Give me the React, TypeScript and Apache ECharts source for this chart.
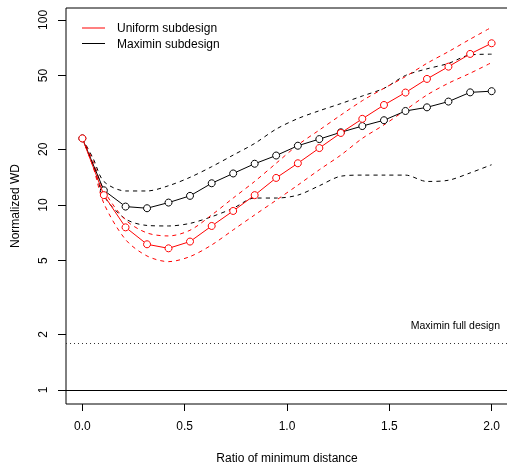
import React, { useEffect, useRef } from "react";
import * as echarts from "echarts";

// x positions (ratio of minimum distance)
const ratioPoints = [0, 0.105, 0.211, 0.316, 0.421, 0.526, 0.632, 0.737, 0.842, 0.947, 1.053, 1.158, 1.263, 1.368, 1.474, 1.579, 1.684, 1.789, 1.895, 2.0];
const bandPoints = [0, 0.053, 0.105, 0.211, 0.316, 0.421, 0.526, 0.632, 0.737, 0.842, 0.947, 1.053, 1.158, 1.263, 1.368, 1.474, 1.579, 1.684, 1.789, 1.895, 2.0];

// Normalized WD, medians
const uniformMedian = [22.9, 11.3, 7.57, 6.13, 5.83, 6.34, 7.7, 9.28, 11.3, 14.0, 16.8, 20.3, 24.5, 29.2, 34.7, 40.5, 48.0, 55.9, 65.5, 74.8];
const maximinMedian = [22.9, 12.0, 9.8, 9.6, 10.3, 11.2, 13.1, 14.8, 16.7, 18.5, 20.9, 22.7, 24.7, 26.7, 28.7, 32.2, 33.7, 36.2, 40.6, 41.2];

// bands (dashed)
const uniformUpper = [22.9, 17.2, 12.0, 8.3, 7.06, 6.8, 7.3, 8.83, 10.9, 13.4, 16.8, 21.1, 25.4, 30.6, 36.6, 42.7, 49.4, 58.3, 67.4, 78.7, 91.3];
const uniformLower = [22.9, 16.0, 10.2, 6.5, 5.3, 4.94, 5.26, 6.08, 7.33, 8.83, 10.6, 12.8, 15.5, 18.6, 22.9, 27.1, 32.6, 39.3, 45.5, 51.5, 58.8];
const maximinUpper = [22.9, 17.8, 13.4, 11.9, 11.9, 12.7, 14.1, 16.1, 18.6, 21.5, 25.7, 29.3, 32.3, 35.3, 38.8, 42.7, 50.1, 54.4, 58.2, 64.7, 65.3];
const maximinLower = [22.9, 16.4, 11.2, 8.4, 7.75, 7.7, 7.95, 8.64, 9.6, 10.9, 10.9, 11.3, 12.7, 14.3, 14.5, 14.5, 14.5, 13.4, 13.6, 14.9, 16.5];

const referenceLevels = [1, 1.8];
const xTicks = [0, 0.5, 1, 1.5, 2];
const yTicks = [1, 2, 5, 10, 20, 50, 100];

const FONT = "'Liberation Sans', Arial, Helvetica, sans-serif";

function pair(xs: number[], ys: number[]) {
  return xs.map((x, i) => [x, ys[i]]);
}

export default function App() {
  const ref = useRef<HTMLDivElement>(null);
  useEffect(() => {
    const chart = echarts.init(ref.current!, null, { renderer: "svg" });
    const band = (data: number[], color: string) => ({
      type: "line",
      data: pair(bandPoints, data),
      symbol: "none",
      smooth: 0.3,
      silent: true,
      z: 2,
      lineStyle: { color, width: 1, type: [4, 4] },
    });
    const median = (name: string, data: number[], color: string, z: number) => ({
      name,
      type: "line",
      data: pair(ratioPoints, data),
      symbol: "circle",
      symbolSize: 7,
      z,
      lineStyle: { color, width: 1 },
      itemStyle: { color: "#fff", borderColor: color, borderWidth: 1 },
    });
    chart.setOption({
      animation: false,
      textStyle: { fontFamily: FONT, color: "#000" },
      grid: {
        left: 66,
        top: 8,
        width: 442,
        height: 396,
        show: true,
        borderColor: "#000",
        borderWidth: 1,
        backgroundColor: "transparent",
        containLabel: false,
        outerBoundsMode: "none",
      },
      legend: {
        data: [
          { name: "Uniform subdesign", itemStyle: { color: "#ff0000" } },
          { name: "Maximin subdesign", itemStyle: { color: "#000" } },
        ],
        orient: "vertical",
        left: 82,
        top: 21,
        icon: "rect",
        itemWidth: 23,
        itemHeight: 1,
        itemGap: 1.5,
        padding: 0,
        itemStyle: { borderWidth: 0 },
        textStyle: { fontSize: 12, lineHeight: 14, color: "#000", fontFamily: FONT, padding: [0, 0, 0, 7] },
      },
      xAxis: {
        type: "value",
        min: -0.08,
        max: 2.08,
        splitLine: { show: false },
        axisLine: { show: false, onZero: false },
        axisTick: { show: true, length: 7, customValues: xTicks, lineStyle: { color: "#000" } },
        axisLabel: {
          customValues: xTicks,
          formatter: (v: number) => v.toFixed(1),
          margin: 16,
          fontSize: 12,
          color: "#000",
          fontFamily: FONT,
        },
        name: "Ratio of minimum distance",
        nameLocation: "middle",
        nameGap: 48,
        nameTextStyle: { fontSize: 12, color: "#000", fontFamily: FONT },
      },
      yAxis: {
        type: "log",
        logBase: 10,
        min: 0.84,
        max: 116,
        splitLine: { show: false },
        axisLine: { show: false, onZero: false },
        axisTick: { show: true, length: 8, customValues: yTicks, lineStyle: { color: "#000" } },
        axisLabel: {
          customValues: yTicks,
          rotate: 90,
          formatter: (v: number) => String(+(+v).toPrecision(3)),
          margin: 17,
          fontSize: 12,
          color: "#000",
          fontFamily: FONT,
        },
        name: "Normalized WD",
        nameLocation: "middle",
        nameRotate: 90,
        nameGap: 45,
        nameTextStyle: { fontSize: 12, color: "#000", fontFamily: FONT },
      },
      series: [
        band(maximinUpper, "#000"),
        band(maximinLower, "#000"),
        band(uniformUpper, "#ff0000"),
        band(uniformLower, "#ff0000"),
        {
          ...median("Maximin subdesign", maximinMedian, "#000", 3),
          markLine: {
            silent: true,
            symbol: ["none", "none"],
            label: { show: false },
            data: [
              { yAxis: referenceLevels[0], lineStyle: { type: "solid", color: "#000", width: 1 } },
              { yAxis: referenceLevels[1], lineStyle: { type: [1, 3], color: "#333", width: 1 } },
            ],
          },
        },
        median("Uniform subdesign", uniformMedian, "#ff0000", 4),
      ],
      graphic: [
        {
          type: "text",
          right: 7,
          top: 319,
          style: { text: "Maximin full design", fontSize: 10.5, fill: "#000", fontFamily: FONT },
        },
      ],
    });
    return () => chart.dispose();
  }, []);
  return <div ref={ref} style={{ position: "fixed", left: 0, top: 0, width: 507, height: 466 }} />;
}
